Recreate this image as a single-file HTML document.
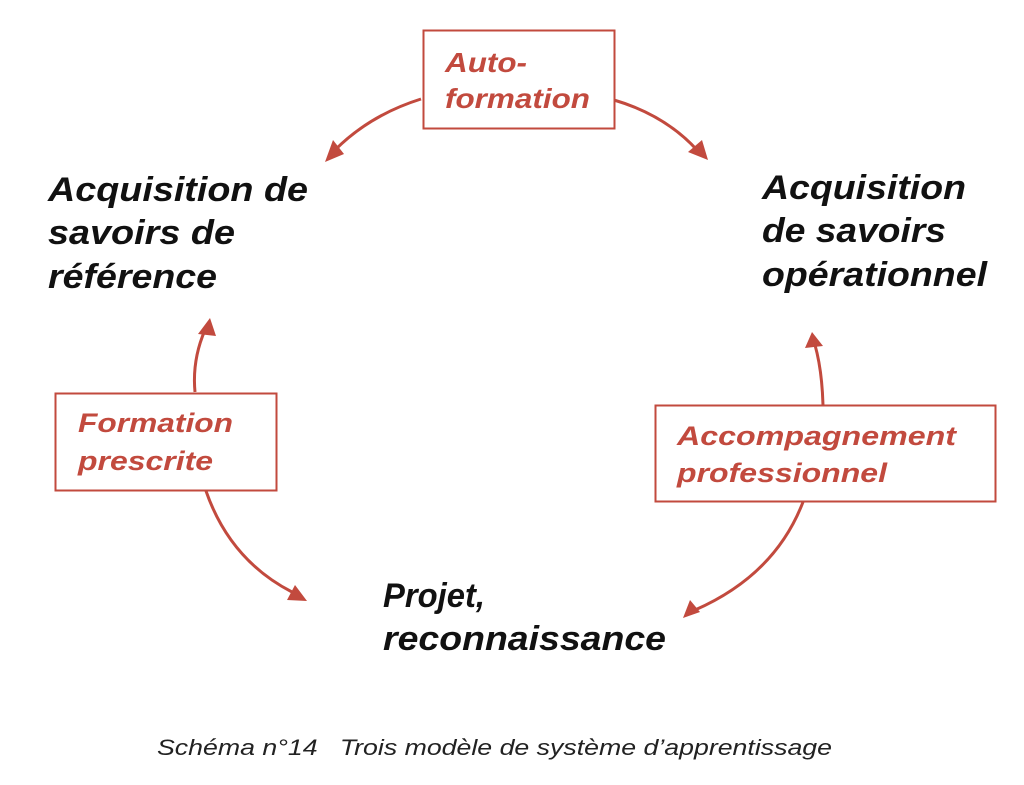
<!DOCTYPE html>
<html><head><meta charset="utf-8"><style>
html,body{margin:0;padding:0;background:#fff;}
svg{display:block;}
.t{font-family:"Liberation Sans",sans-serif;font-weight:bold;font-style:italic;}
</style></head><body>
<svg width="1024" height="785" viewBox="0 0 1024 785" xmlns="http://www.w3.org/2000/svg">
<g fill="none" stroke="#c24a3e" stroke-width="3">
<rect x="423.5" y="30.5" width="191" height="98" stroke-width="2"/>
<rect x="55.5" y="393.5" width="221" height="97" stroke-width="2"/>
<rect x="655.5" y="405.5" width="340" height="96" stroke-width="2"/>
<path d="M421,99 Q370,115 335,150"/>
<path d="M614,100 Q665,115 697,150"/>
<path d="M195,392 Q192,360 205,330"/>
<path d="M206,491 Q230,560 292,592"/>
<path d="M823,405 Q822,370 815,345"/>
<path d="M803,502 Q775,575 695,610"/>
</g>
<g fill="#c24a3e">
<polygon points="325,162 333,140 344,154"/>
<polygon points="708,160 688,152 702,140"/>
<polygon points="210,318 198,334 216,336"/>
<polygon points="307,601 287,600 295,585"/>
<polygon points="812,332 805,348 823,346"/>
<polygon points="683,618 690,600 700,612"/>
</g>
<g class="t" fill="#c24a3e" font-size="28">
<text x="445" y="72" textLength="82" lengthAdjust="spacingAndGlyphs">Auto-</text>
<text x="445" y="108" textLength="145" lengthAdjust="spacingAndGlyphs">formation</text>
<text x="78" y="432" font-size="27" textLength="155" lengthAdjust="spacingAndGlyphs">Formation</text>
<text x="78" y="470" font-size="27" textLength="135" lengthAdjust="spacingAndGlyphs">prescrite</text>
<text x="677" y="445" font-size="27" textLength="279" lengthAdjust="spacingAndGlyphs">Accompagnement</text>
<text x="677" y="482" font-size="27" textLength="210" lengthAdjust="spacingAndGlyphs">professionnel</text>
</g>
<g class="t" fill="#111" font-size="34">
<text x="48" y="201" textLength="260" lengthAdjust="spacingAndGlyphs">Acquisition de</text>
<text x="48" y="244" textLength="187" lengthAdjust="spacingAndGlyphs">savoirs de</text>
<text x="48" y="288" textLength="169" lengthAdjust="spacingAndGlyphs">référence</text>
<text x="762" y="199" textLength="204" lengthAdjust="spacingAndGlyphs">Acquisition</text>
<text x="762" y="242" textLength="184" lengthAdjust="spacingAndGlyphs">de savoirs</text>
<text x="762" y="286" textLength="225" lengthAdjust="spacingAndGlyphs">opérationnel</text>
<text x="383" y="607" textLength="102" lengthAdjust="spacingAndGlyphs">Projet,</text>
<text x="383" y="650" textLength="283" lengthAdjust="spacingAndGlyphs">reconnaissance</text>
</g>
<text x="157" y="755" font-family="Liberation Sans, sans-serif" font-style="italic" font-size="22" fill="#222" textLength="675" lengthAdjust="spacingAndGlyphs" xml:space="preserve">Schéma n°14   Trois modèle de système d’apprentissage</text>
</svg>
</body></html>
